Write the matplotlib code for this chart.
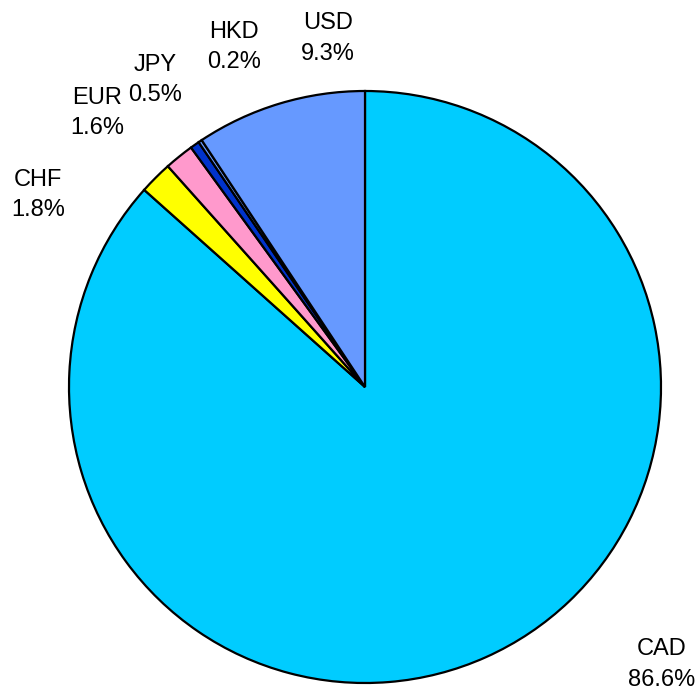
import matplotlib
matplotlib.use("Agg")
import matplotlib.pyplot as plt

categories = ["CAD", "CHF", "EUR", "JPY", "HKD", "USD"]
values = [86.6, 1.8, 1.6, 0.5, 0.2, 9.3]
colors = ["#00CCFF", "#FFFF00", "#FF99CC", "#0033CC", "#6699FF", "#6699FF"]
# label block centres in pie-radius units (style/layout only)
label_pos = [(1.003, -0.937), (-1.105, 0.649), (-0.905, 0.926),
             (-0.709, 1.037), (-0.443, 1.149), (-0.125, 1.178)]

plt.rcParams['font.family'] = ['Liberation Sans', 'DejaVu Sans']

fig = plt.figure(figsize=(7.0, 6.92), dpi=100)
W, H = 700, 692
cx, cy, R = 365, 387, 296
ax = fig.add_axes([(cx - R) / W, (H - cy - R) / H, 2 * R / W, 2 * R / H])
ax.pie(values, colors=colors, startangle=90, counterclock=False, radius=1,
       wedgeprops=dict(edgecolor="black", linewidth=1.6))
ax.set_xlim(-1, 1)
ax.set_ylim(-1, 1)
ax.set_aspect('auto')
ax.axis('off')

for cat, val, (x, y) in zip(categories, values, label_pos):
    ax.text(x, y, f"{cat}\n{val:.1f}%", ha="center", va="center",
            fontsize=17, linespacing=1.5, clip_on=False)

fig.savefig("out.png", dpi=100)
